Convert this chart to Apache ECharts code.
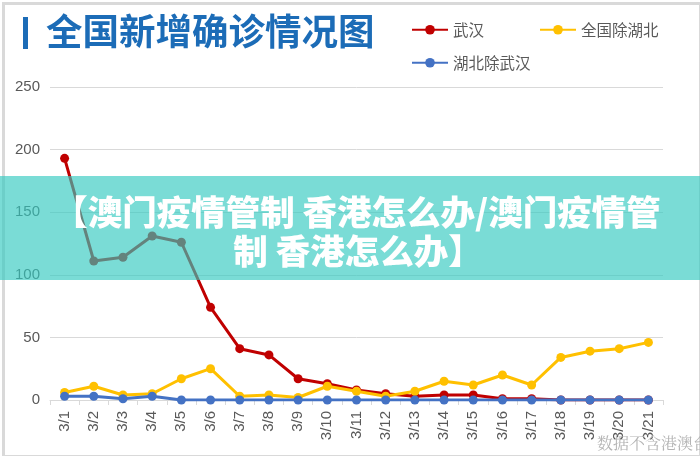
<!DOCTYPE html>
<html>
<head>
<meta charset="utf-8">
<script src="https://cdn.jsdelivr.net/npm/echarts@6/dist/echarts.min.js"></script>
<style>
html,body{margin:0;padding:0;background:#fff;}
#c{width:700px;height:456px;}
</style>
</head>
<body>
<div id="c"></div>
<script>
const categories = ['3/1','3/2','3/3','3/4','3/5','3/6','3/7','3/8','3/9','3/10','3/11','3/12','3/13','3/14','3/15','3/16','3/17','3/18','3/19','3/20','3/21'];
const wuhan = [193,111,114,131,126,74,41,36,17,13,8,5,3,4,4,1,1,0,0,0,0];
const outsideHubei = [6,11,4,5,17,25,3,4,2,11,7,3,7,15,12,20,12,34,39,41,46];
const hubeiExWuhan = [3,3,1,3,0,0,0,0,0,0,0,0,0,0,0,0,0,0,0,0,0];
const seriesNames = ['武汉','全国除湖北','湖北除武汉'];
const titleText = '全国新增确诊情况图';
const overlayLines = ['【澳门疫情管制 香港怎么办/澳门疫情管', '制 香港怎么办】'];
const noteText = '数据不含港澳台';

const font = '"Noto Sans CJK SC", "Noto Sans", sans-serif';
const numFont = '"Liberation Sans", Arial, sans-serif';
const chart = echarts.init(document.getElementById('c'), null, {renderer:'canvas'});
const colors = ['#c00000','#ffc000','#4472c4'];
const legendBase = {
  itemWidth: 36, itemHeight: 12, itemGap: 0,
  textStyle: {color:'#595959', fontSize:15.5, fontFamily: font}
};
chart.setOption({
  animation: false,
  color: colors,
  grid: {left:50, right:37, top:87, bottom:56},
  legend: [
    Object.assign({data:[seriesNames[0]], left:406, top:17}, legendBase),
    Object.assign({data:[seriesNames[1]], left:534, top:17}, legendBase),
    Object.assign({data:[seriesNames[2]], left:406, top:50}, legendBase)
  ],
  xAxis: {
    type:'category', data: categories, boundaryGap:true,
    axisLine:{lineStyle:{color:'#d9d9d9', width:1}},
    axisTick:{show:true, length:5, lineStyle:{color:'#d9d9d9'}},
    axisLabel:{rotate:90, color:'#595959', fontSize:15, fontFamily: numFont, margin:11}
  },
  yAxis: {
    type:'value', min:0, max:250, interval:50,
    axisLine:{show:false}, axisTick:{show:false},
    axisLabel:{color:'#595959', fontSize:15, fontFamily: numFont, margin:10},
    splitLine:{lineStyle:{color:'#d9d9d9', width:1}}
  },
  series: [
    {name:seriesNames[0], type:'line', data:wuhan, symbol:'circle', symbolSize:9, lineStyle:{width:3}, z:2},
    {name:seriesNames[1], type:'line', data:outsideHubei, symbol:'circle', symbolSize:9, lineStyle:{width:3}, z:3},
    {name:seriesNames[2], type:'line', data:hubeiExWuhan, symbol:'circle', symbolSize:9, lineStyle:{width:3}, z:4}
  ],
  graphic: [
    {type:'rect', left:1, top:1, shape:{width:697, height:453}, style:{fill:'none', stroke:'#d9d9d9', lineWidth:3}, z:0},
    {type:'rect', left:23, top:17, shape:{width:5, height:32}, style:{fill:'#1c6cb7'}},
    {type:'text', left:46, top:13, style:{text:titleText, fill:'#1c6cb7', font:'bold 36.5px ' + font}},
    {type:'rect', left:0, top:176, shape:{width:700, height:104}, style:{fill:'rgba(51,201,192,0.65)'}, z:100},
    {type:'text', x:357, y:212, z:101, style:{text:overlayLines[0], fill:'#ffffff', font:'900 34.5px ' + font, align:'center', verticalAlign:'middle'}},
    {type:'text', x:358, y:251, z:101, style:{text:overlayLines[1], fill:'#ffffff', font:'900 34.5px ' + font, align:'center', verticalAlign:'middle'}},
    {type:'text', x:597, y:443, z:101, style:{text:noteText, fill:'#b4b4b4', font:'16px "Noto Serif CJK SC", "Noto Sans CJK SC", serif', verticalAlign:'middle'}}
  ]
});
</script>
</body>
</html>
